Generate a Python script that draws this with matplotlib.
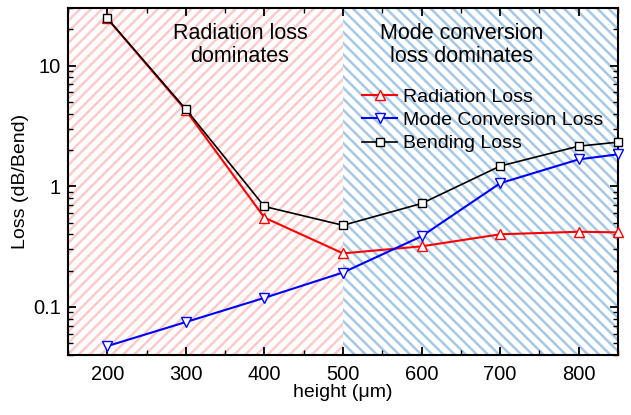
import numpy as np
import matplotlib.pyplot as plt
from matplotlib.ticker import MultipleLocator, LogLocator, NullFormatter, FixedLocator

plt.rcParams['font.family'] = ['Liberation Sans', 'DejaVu Sans']
plt.rcParams['hatch.linewidth'] = 1.8

height = [200, 300, 400, 500, 600, 700, 800, 850]
radiation = [24.6, 4.25, 0.55, 0.278, 0.318, 0.40, 0.42, 0.415]
mode_conv = [0.0474, 0.075, 0.119, 0.193, 0.385, 1.06, 1.67, 1.84]
bending = [24.6, 4.35, 0.68, 0.475, 0.72, 1.47, 2.15, 2.32]

fig = plt.figure(figsize=(6.31, 4.15), dpi=100)
ax = fig.add_axes([68/631, 1-355/415, 550/631, 347/415])

# shaded regions
ax.axvspan(150, 500, facecolor='white', edgecolor='#ffcaca', hatch='///', linewidth=0, zorder=0)
ax.axvspan(500, 850, facecolor='white', edgecolor='#a4c8e6', hatch='\\\\\\', linewidth=0, zorder=0)

mk = 7.5
ax.plot(height, radiation, color='red', lw=1.5, marker='^', ms=mk, mfc='white', mec='red',
        mew=1.0, label='Radiation Loss', zorder=3, clip_on=False)
ax.plot(height, mode_conv, color='blue', lw=1.5, marker='v', ms=mk, mfc='white', mec='blue',
        mew=1.0, label='Mode Conversion Loss', zorder=3, clip_on=False)
ax.plot(height, bending, color='black', lw=1.2, marker='s', ms=5.5, mfc='white', mec='black',
        mew=1.0, label='Bending Loss', zorder=4, clip_on=False)

ax.set_yscale('log')
ax.set_xlim(150, 850)
ax.set_ylim(0.04, 30)

ax.set_xticks([200, 300, 400, 500, 600, 700, 800])
ax.xaxis.set_minor_locator(MultipleLocator(50))
ax.yaxis.set_major_locator(FixedLocator([0.1, 1, 10]))
ax.set_yticklabels(['0.1', '1', '10'])
ax.yaxis.set_minor_locator(LogLocator(base=10, subs=np.arange(2, 10)))
ax.yaxis.set_minor_formatter(NullFormatter())

ax.tick_params(which='both', direction='in', top=True, right=True, labelsize=14.5)
ax.tick_params(which='major', length=6, width=1.3)
ax.tick_params(which='minor', length=3.5, width=1.0)
ax.tick_params(axis='x', which='major', pad=7)
ax.tick_params(axis='y', which='major', pad=5)
for s in ax.spines.values():
    s.set_linewidth(1.5)

ax.set_xlabel('height (\u03bcm)', fontsize=14, labelpad=0)
ax.set_ylabel('Loss (dB/Bend)', fontsize=14, labelpad=3)

ax.text(172/550, 1-37/347, 'Radiation loss\ndominates', transform=ax.transAxes,
        ha='center', va='center', fontsize=15.5, linespacing=1.15)
ax.text(394/550, 1-37/347, 'Mode conversion\nloss dominates', transform=ax.transAxes,
        ha='center', va='center', fontsize=15.5, linespacing=1.15)

ax.legend(loc='upper left', bbox_to_anchor=(294/550, 1-80/347), frameon=False, fontsize=14,
          handlelength=1.8, handletextpad=0.3, labelspacing=0.3, borderpad=0,
          borderaxespad=0)

fig.savefig('out.png', dpi=100)
